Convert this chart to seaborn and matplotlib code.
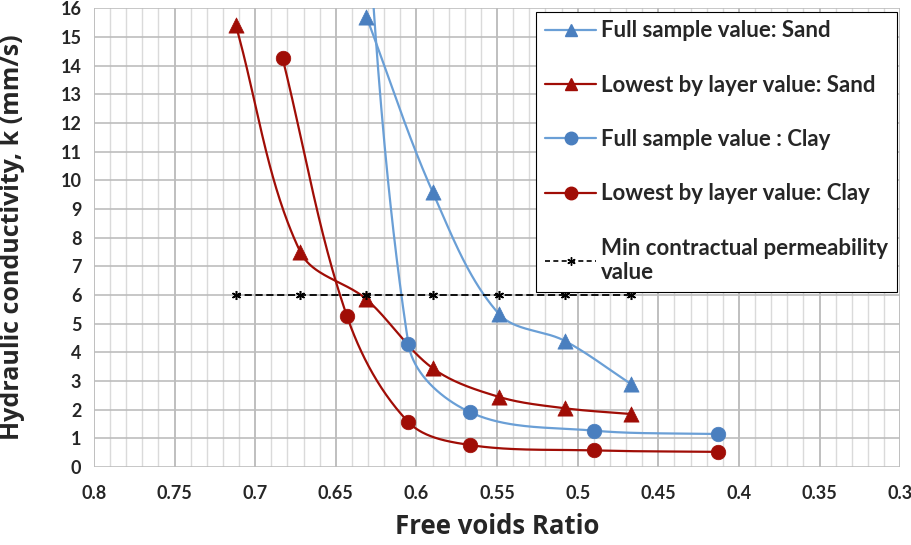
import numpy as np
import pandas as pd
import matplotlib
matplotlib.use("Agg")
import matplotlib.pyplot as plt
from matplotlib.lines import Line2D
from matplotlib.ticker import MultipleLocator
import seaborn as sns

# values
sand_x = [0.631, 0.590, 0.549, 0.508, 0.467]
sand_full = [15.7, 9.6, 5.35, 4.4, 2.9]

sand_low_x = [0.712, 0.672, 0.631, 0.590, 0.549, 0.508, 0.467]
sand_low = [15.4, 7.5, 5.85, 3.45, 2.45, 2.05, 1.85]

clay_x = [0.643, 0.605, 0.567, 0.490, 0.413]
clay_full = [30.0, 4.3, 1.92, 1.27, 1.15]

clay_low_x = [0.683, 0.643, 0.605, 0.567, 0.490, 0.413]
clay_low = [14.25, 5.25, 1.57, 0.77, 0.58, 0.53]

min_x = [0.712, 0.672, 0.631, 0.590, 0.549, 0.508, 0.467]
min_k = [6, 6, 6, 6, 6, 6, 6]

labels = ["Full sample value: Sand", "Lowest by layer value: Sand",
          "Full sample value : Clay", "Lowest by layer value: Clay",
          "Min contractual permeability\nvalue"]

BLUE_LINE = "#6a9fd6"
BLUE_MK = "#4a7fbf"
RED = "#a00d06"

# rough pixel scale of the axes, so the smoothing works in screen space
SX, SY = 1612.0, 28.7


def smooth(x, y, n=60):
    # bezier through the points, handles a third of the segment length
    P = np.column_stack([np.asarray(x, float) * SX, np.asarray(y, float) * SY])
    m = len(P)
    D = np.zeros_like(P)
    for i in range(m):
        v = P[min(i + 1, m - 1)] - P[max(i - 1, 0)]
        D[i] = v / np.linalg.norm(v)
    t = np.linspace(0, 1, n)[:, None]
    out = []
    for i in range(m - 1):
        L = np.linalg.norm(P[i + 1] - P[i])
        c0, c3 = P[i], P[i + 1]
        c1 = c0 + D[i] * L / 3
        c2 = c3 - D[i + 1] * L / 3
        out.append((1 - t) ** 3 * c0 + 3 * (1 - t) ** 2 * t * c1
                   + 3 * (1 - t) * t ** 2 * c2 + t ** 3 * c3)
    C = np.vstack(out)
    return C[:, 0] / SX, C[:, 1] / SY


sns.set_style("white")
plt.rcParams["font.family"] = ["Lato", "DejaVu Sans"]

fig = plt.figure(figsize=(9.12, 5.45), dpi=100)
ax = fig.add_axes([0.103, 0.143, 0.884, 0.842])

series = [
    (sand_x, sand_full, BLUE_LINE, BLUE_MK, "^"),
    (sand_low_x, sand_low, RED, RED, "^"),
    (clay_x, clay_full, BLUE_LINE, BLUE_MK, "o"),
    (clay_low_x, clay_low, RED, RED, "o"),
]

for xs, ys, lc, mc, mk in series:
    sx, sy = smooth(xs, ys)
    df = pd.DataFrame({"x": sx, "y": sy})
    sns.lineplot(data=df, x="x", y="y", sort=False, estimator=None,
                 color=lc, lw=1.6, ax=ax, zorder=3)
    pts = pd.DataFrame({"x": xs, "y": ys})
    sns.scatterplot(data=pts, x="x", y="y", marker=mk, s=110 if mk == "o" else 120,
                    color=mc, edgecolor=mc, linewidth=0.5, ax=ax, zorder=4)

mdf = pd.DataFrame({"x": min_x, "y": min_k})
sns.lineplot(data=mdf, x="x", y="y", color="black", lw=1.3, ls=(0, (4, 2)),
             marker=(6, 2, 0), markersize=6.5, markeredgewidth=1.1,
             markeredgecolor="black", markerfacecolor="black", ax=ax, zorder=5)

ax.set_xlim(0.8, 0.3)
ax.set_ylim(0, 16)
ax.xaxis.set_major_locator(MultipleLocator(0.05))
ax.xaxis.set_minor_locator(MultipleLocator(0.01))
ax.yaxis.set_major_locator(MultipleLocator(1))
ax.set_xticks(ax.get_xticks())
ax.set_xticklabels([("%g" % round(v, 2)) for v in ax.get_xticks()])
ax.set_xlim(0.8, 0.3)
ax.grid(which="minor", axis="x", color="#dadada", lw=1.0)
ax.grid(which="major", axis="x", color="#b4b4b4", lw=1.2)
ax.grid(which="major", axis="y", color="#bdbdbd", lw=1.2)
ax.set_axisbelow(True)
for s in ax.spines.values():
    s.set_visible(False)
ax.tick_params(axis="both", which="major", length=5, color="#b4b4b4",
               labelsize=13, pad=4)
ax.tick_params(axis="x", which="minor", length=0)
for lab in ax.get_xticklabels() + ax.get_yticklabels():
    lab.set_fontweight("bold")
ax.tick_params(axis="x", pad=8)

ax.set_xlabel("Free voids Ratio", fontsize=18.5, fontweight="bold",
              family=["Open Sans", "DejaVu Sans"])
ax.set_ylabel("Hydraulic conductivity, k (mm/s)", fontsize=18, fontweight="bold",
              family=["Open Sans", "DejaVu Sans"])
ax.xaxis.set_label_coords(0.5, -0.1)
ax.yaxis.set_label_coords(-0.085, 0.5)

handles = [
    Line2D([], [], color=BLUE_LINE, lw=1.6, marker="^", markersize=9,
           markerfacecolor=BLUE_MK, markeredgecolor=BLUE_MK),
    Line2D([], [], color=RED, lw=1.6, marker="^", markersize=9,
           markerfacecolor=RED, markeredgecolor=RED),
    Line2D([], [], color=BLUE_LINE, lw=1.6, marker="o", markersize=9,
           markerfacecolor=BLUE_MK, markeredgecolor=BLUE_MK),
    Line2D([], [], color=RED, lw=1.6, marker="o", markersize=9,
           markerfacecolor=RED, markeredgecolor=RED),
    Line2D([], [], color="black", lw=1.2, ls=(0, (3, 2)), marker=(6, 2, 0),
           markersize=6, markeredgecolor="black"),
]
leg = ax.legend(handles, labels, loc="upper right", bbox_to_anchor=(1.0, 1.0),
                borderaxespad=0.15, frameon=True, fancybox=False, framealpha=1,
                edgecolor="black", handlelength=2.3, handletextpad=0.2,
                labelspacing=1.5, borderpad=0.4,
                prop={"weight": "bold", "size": 16})
leg.get_frame().set_linewidth(0.8)
leg.set_zorder(10)

fig.savefig("out.png", dpi=100)
